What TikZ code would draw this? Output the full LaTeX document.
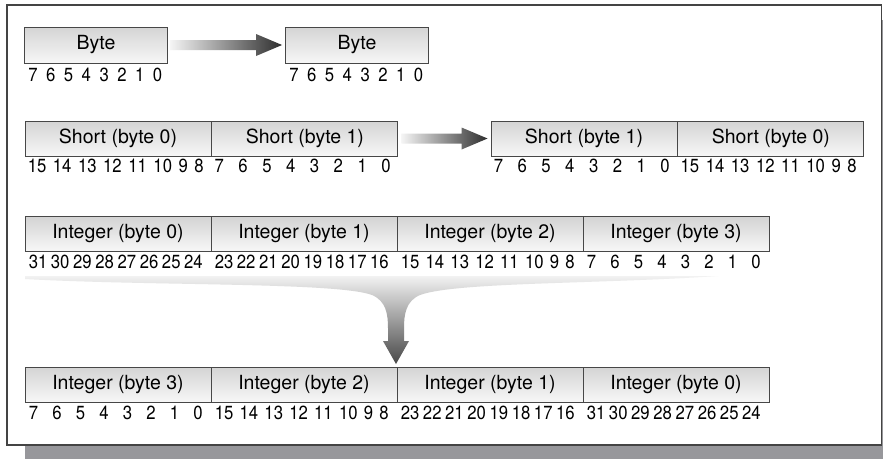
\documentclass[tikz,border=0pt]{standalone}
\usepackage{fontspec}
\usepackage{graphicx}
\setmainfont{TeX Gyre Heros}
\usetikzlibrary{positioning,calc}
\definecolor{framegray}{RGB}{68,68,68}
\definecolor{shadowgray}{RGB}{151,151,155}
\newcommand{\bitrun}[3]{\makebox[#1][s]{\foreach \bv [count=\bc] in {#2,...,#3}{\ifnum\bc>1 \hfill\fi\scalebox{0.88}[1]{\bv}}}}
\newcommand{\shadearrow}[2]{%
  \shade[left color=black!4,right color=black!82]
    ($(#1)+(0,-5)$) -- ($(#2)+(-26,-5)$) -- ($(#2)+(-26,-11)$) -- (#2)
    -- ($(#2)+(-26,11)$) -- ($(#2)+(-26,5)$) -- ($(#1)+(0,5)$) -- cycle;}

\begin{document}
\begin{tikzpicture}[x=1pt,y=-1pt,
  cell/.style={draw=black!72,line width=0.9pt,top color=black!17,bottom color=black!3,
    minimum width=186pt,minimum height=35pt,inner sep=0pt,font=\fontsize{19.5}{22}\selectfont},
  bytecell/.style={cell,minimum width=143pt,minimum height=36pt},
  bits/.style={inner sep=0pt,anchor=base west,font=\fontsize{19}{21}\selectfont}]
\useasboundingbox (0,0) rectangle (883,459);
\fill[shadowgray] (25,20) rectangle (883,459);
\draw[framegray,line width=1.5pt,fill=white] (7,5) rectangle (881.5,445);
\node[bytecell] (byteA) at (96,45) {Byte};
\node[bytecell] (byteB) at (357,45) {Byte};
\node[bits] at ($(byteA.south west)+(4,18)$) {\bitrun{134pt}{7}{0}};
\node[bits] at ($(byteB.south west)+(4,18)$) {\bitrun{134pt}{7}{0}};
\coordinate (a1) at ($(byteA.east)+(2,0)$);
\coordinate (a2) at ($(byteB.west)+(-3,0)$);
\shadearrow{a1}{a2}
\node[cell] (shA0) at (118,138.5) {Short (byte 0)};
\node[cell,right=0pt of shA0] (shA1) {Short (byte 1)};
\node[cell] (shB1) at (584,138.5) {Short (byte 1)};
\node[cell,right=0pt of shB1] (shB0) {Short (byte 0)};
\foreach \c/\h/\l in {shA0/15/8,shA1/7/0,shB1/7/0,shB0/15/8}
  \node[bits] at ($(\c.south west)+(3,16)$) {\bitrun{176pt}{\h}{\l}};
\coordinate (s1) at ($(shA1.east)+(3,0)$);
\coordinate (s2) at ($(shB1.west)+(-3,0)$);
\shadearrow{s1}{s2}
\foreach \k/\h/\l in {0/31/24,1/23/16,2/15/8,3/7/0} {
  \node[cell] (in\k) at (118+186*\k,234) {Integer (byte \k)};
  \node[bits] at ($(in\k.south west)+(4,17)$) {\bitrun{174pt}{\h}{\l}};
}
\foreach \k/\n/\h/\l in {0/3/7/0,1/2/15/8,2/1/23/16,3/0/31/24} {
  \node[cell] (out\k) at (118+186*\k,384.5) {Integer (byte \n)};
  \node[bits] at ($(out\k.south west)+(4,17)$) {\bitrun{174pt}{\h}{\l}};
}
\shade[top color=black!5,bottom color=black!72]
  (25,276) -- (718,276)
  .. controls (600,284) and (455,282) .. (420,295)
  .. controls (406,301) and (404,314) .. (404,328)
  -- (404,341) -- (409,341) -- (396,364) -- (383,341) -- (388,341) -- (388,328)
  .. controls (388,314) and (386,301) .. (372,295)
  .. controls (337,282) and (150,286) .. (25,279) -- cycle;
\end{tikzpicture}
\end{document}
